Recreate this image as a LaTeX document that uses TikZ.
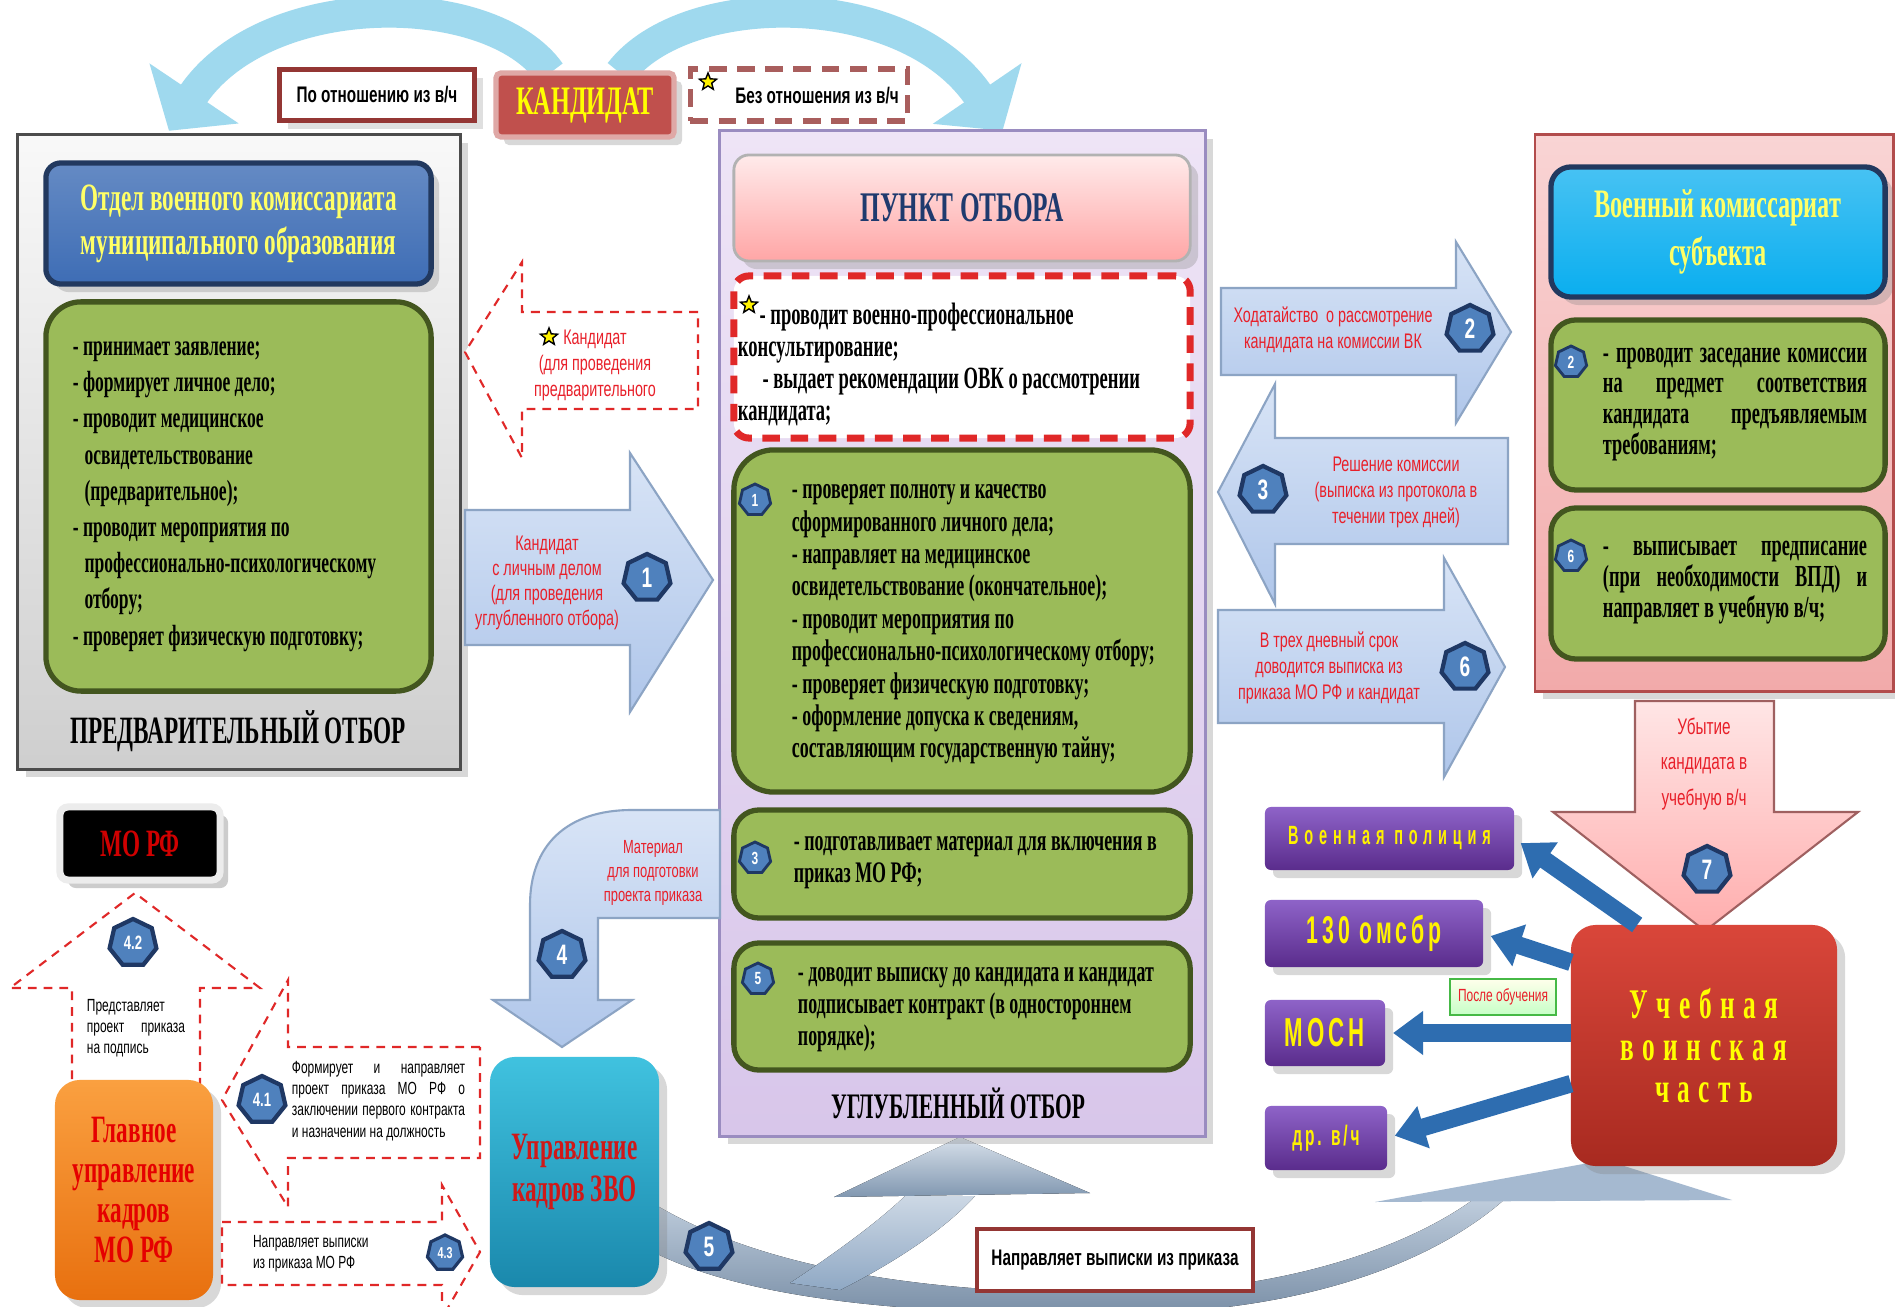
\documentclass[tikz,border=0pt]{standalone}
\usepackage{fontspec}
\setmainfont{Liberation Serif}
\newfontfamily\srf[FakeStretch=0.6]{Liberation Serif}
\newfontfamily\srw[FakeStretch=0.6,LetterSpace=20]{Liberation Serif}
\newfontfamily\snf[FakeStretch=0.68]{Liberation Sans}
\newfontfamily\snw[FakeStretch=0.55,LetterSpace=10]{Liberation Sans}
\usetikzlibrary{shapes.geometric,arrows.meta,shadows,backgrounds,positioning}

\definecolor{greenbox}{HTML}{9BBB59}
\definecolor{greenedge}{HTML}{43561F}
\definecolor{okblue}{HTML}{3E6DB5}
\definecolor{okedge}{HTML}{22395F}
\definecolor{headyellow}{HTML}{FFFF66}
\definecolor{vkblue}{HTML}{0AAEEF}
\definecolor{lavtop}{HTML}{EEE4F6}
\definecolor{lavbot}{HTML}{D8C6EA}
\definecolor{lavedge}{HTML}{9A8CC0}
\definecolor{pinktop}{HTML}{F9D4D4}
\definecolor{pinkbot}{HTML}{F2AAAA}
\definecolor{punktblue}{HTML}{1F3A6E}
\definecolor{kandred}{HTML}{C0504D}
\definecolor{kandyellow}{HTML}{FFFF00}
\definecolor{darkred}{HTML}{943634}
\definecolor{dashred}{HTML}{E02828}
\definecolor{labelred}{HTML}{E8202A}
\definecolor{arrowtop}{HTML}{D8E4F6}
\definecolor{arrowbot}{HTML}{AFC6EA}
\definecolor{arrowedge}{HTML}{8CA4C4}
\definecolor{arccyan}{HTML}{9FD9EE}
\definecolor{purtop}{HTML}{8E63C8}
\definecolor{purbot}{HTML}{5A2C8C}
\definecolor{puryellow}{HTML}{FFF200}
\definecolor{darkblue}{HTML}{2E6DB0}
\definecolor{uchtop}{HTML}{D9463A}
\definecolor{uchbot}{HTML}{A82A20}
\definecolor{tealtop}{HTML}{40C2DF}
\definecolor{tealbot}{HTML}{1A88AC}
\definecolor{orangetop}{HTML}{FAA040}
\definecolor{orangebot}{HTML}{E8700F}
\definecolor{morfred}{HTML}{D00000}
\definecolor{zvored}{HTML}{D01818}
\definecolor{swoosh}{HTML}{8FA8C4}
\definecolor{badgeblue}{HTML}{4F81BD}
\definecolor{badgeedge}{HTML}{1F3864}

\begin{document}
\begin{tikzpicture}[x=0.01cm, y=-0.01cm,
    every node/.style={inner sep=0pt, outer sep=0pt},
    panelbox/.style={rectangle, line width=0.8pt, drop shadow={opacity=0.3}},
    headbox/.style={rectangle, rounded corners=0.15cm, line width=1.5pt, draw=okedge,
        text=headyellow, align=center, font=\srf\bfseries\fontsize{11}{12.5}\selectfont,
        drop shadow={opacity=0.3}},
    gbox/.style={rectangle, rounded corners=0.3cm, draw=greenedge, line width=1.5pt, fill=greenbox},
    gtext/.style={anchor=west, align=left, font=\srf\bfseries\fontsize{8.5}{9.2}\selectfont},
    ttl/.style={font=\srf\bfseries\fontsize{11}{12}\selectfont},
    badge/.style={regular polygon, regular polygon sides=7, fill=badgeblue, draw=badgeedge,
        line width=1.2pt, minimum size=0.48cm, text=white, font=\snf\bfseries\fontsize{8}{8}\selectfont},
    smallbadge/.style={badge, minimum size=0.32cm, line width=0.8pt, font=\snf\bfseries\fontsize{5}{5}\selectfont},
    blockarr/.style={draw=arrowedge, line width=0.6pt, top color=arrowtop, bottom color=arrowbot},
    dasharr/.style={draw=dashred, line width=0.6pt, dash pattern=on 2.5pt off 2pt, fill=white},
    redlabel/.style={align=center, text=labelred, font=\snf\fontsize{6}{7.4}\selectfont},
    blacklabel/.style={font=\snf\fontsize{5}{6}\selectfont},
    purplebox/.style={rectangle, rounded corners=0.06cm, top color=purtop, bottom color=purbot,
        text=puryellow, drop shadow={opacity=0.3}},
    bluearr/.style={line width=5pt, draw=darkblue, shorten >=0.08cm, -{Triangle[width=0.42cm, length=0.3cm]}},
    arcarr/.style={line width=9pt, draw=arccyan, -{Triangle[width=1.05cm, length=0.45cm]}},
    starmark/.style={star, star points=5, star point ratio=2.3, fill=yellow, draw=black, line width=0.4pt, minimum size=0.18cm}
]
\useasboundingbox (0,0) rectangle (1895,1307);
\begin{scope}[on background layer]
    \fill[white] (0,0) rectangle (1895,1307);
\end{scope}

% top row
\node[rectangle, draw=darkred, line width=1.2pt, fill=white,
    minimum width=1.95cm, minimum height=0.51cm,
    font=\snf\bfseries\fontsize{6.4}{7}\selectfont,
    drop shadow={opacity=0.25}] (otn) at (377,95) {По отношению из в/ч};
\node[rectangle, rounded corners=0.05cm, fill=kandred, draw=kandred!50!white, line width=1.5pt,
    minimum width=1.78cm, minimum height=0.64cm, text=kandyellow,
    font=\srf\bfseries\fontsize{11.5}{12}\selectfont,
    drop shadow={opacity=0.3}] (kand) at (585,105) {КАНДИДАТ};
\node[rectangle, draw=darkred!80, line width=1.5pt, dash pattern=on 5pt off 3pt, fill=white,
    minimum width=2.17cm, minimum height=0.52cm] (bez) at (799,95) {};
\node[font=\snf\bfseries\fontsize{6.4}{7}\selectfont] (beztxt) at (817,96) {Без отношения из в/ч};
\node[starmark] (bezstar) at (708,82) {};

% preliminary selection
\node[panelbox, draw=black!70, top color=gray!5, bottom color=gray!38,
    minimum width=4.42cm, minimum height=6.34cm] (pre) at (239,452) {};
\node[headbox, top color=okblue!80!white, bottom color=okblue,
    minimum width=3.85cm, minimum height=1.21cm] (okhead) at (238.5,223.5)
    {Отдел военного комиссариата\\муниципального образования};
\node[gbox, rounded corners=0.35cm, minimum width=3.85cm, minimum height=3.89cm] (okg) at (238.5,496.5) {};
\node[gtext, font=\srf\bfseries\fontsize{8.3}{10.3}\selectfont] (okgt) at ([xshift=0.27cm]okg.west)
    {- принимает заявление;\\
     - формирует личное дело;\\
     - проводит медицинское\\
     \hspace*{0.4em}освидетельствование\\
     \hspace*{0.4em}(предварительное);\\
     - проводит мероприятия по\\
     \hspace*{0.4em}профессионально-психологическому\\
     \hspace*{0.4em}отбору;\\
     - проверяет физическую подготовку;};
\node[ttl] (pret) at (238,731) {ПРЕДВАРИТЕЛЬНЫЙ ОТБОР};

% deep selection
\node[panelbox, draw=lavedge, top color=lavtop, bottom color=lavbot,
    minimum width=4.85cm, minimum height=10.05cm] (deep) at (962.5,633.5) {};
\node[rectangle, rounded corners=0.15cm, draw=gray!60, line width=0.8pt,
    top color=red!8, bottom color=red!35,
    minimum width=4.56cm, minimum height=1.06cm, text=punktblue,
    font=\srf\bfseries\fontsize{12}{13}\selectfont,
    drop shadow={opacity=0.3}] (punkt) at (962,208) {ПУНКТ ОТБОРА};
\node[rectangle, rounded corners=0.15cm, draw=dashred, line width=2pt, dash pattern=on 5pt off 3pt,
    fill=white, minimum width=4.56cm, minimum height=1.62cm] (dbox) at (962,357) {};
\node[gtext, font=\srf\bfseries\fontsize{8.8}{9.1}\selectfont] (dboxt) at ([xshift=0.04cm,yshift=-0.07cm]dbox.west)
    {\hspace*{0.7em}- проводит военно-профессиональное\\
     консультирование;\\
     \hspace*{0.8em}- выдает рекомендации ОВК о рассмотрении\\
     кандидата;};
\node[starmark] (dstar) at (749,305) {};
\node[gbox, rounded corners=0.4cm, minimum width=4.56cm, minimum height=3.42cm] (g1) at (962,621) {};
\node[gtext] (g1t) at ([xshift=0.58cm,yshift=-0.035cm]g1.west)
    {- проверяет полноту и качество\\
     сформированного личного дела;\\
     - направляет на медицинское\\
     освидетельствование (окончательное);\\
     - проводит мероприятия по\\
     профессионально-психологическому отбору;\\
     - проверяет физическую подготовку;\\
     - оформление допуска к сведениям,\\
     составляющим государственную тайну;};
\node[smallbadge] (b1s) at (755,500) {1};
\node[gbox, rounded corners=0.25cm, minimum width=4.56cm, minimum height=1.08cm] (g3) at (962,864) {};
\node[gtext] (g3t) at ([xshift=0.6cm,yshift=0.015cm]g3.west)
    {- подготавливает материал для включения в\\приказ МО РФ;};
\node[smallbadge] (b3s) at (755,858) {3};
\node[gbox, rounded corners=0.25cm, minimum width=4.56cm, minimum height=1.27cm] (g5) at (962,1006.5) {};
\node[gtext] (g5t) at ([xshift=0.64cm,yshift=-0.03cm]g5.west)
    {- доводит выписку до кандидата и кандидат\\
     подписывает контракт (в одностороннем\\
     порядке);};
\node[smallbadge] (b5s) at (758,979) {5};
\node[ttl, font=\srf\bfseries\fontsize{10.2}{11}\selectfont] (deept) at (958,1103) {УГЛУБЛЕННЫЙ ОТБОР};

% military commissariat of the subject
\node[panelbox, draw=red!40!gray, top color=pinktop, bottom color=pinkbot,
    minimum width=3.58cm, minimum height=5.56cm] (vk) at (1714,413) {};
\node[headbox, top color=vkblue!75!white, bottom color=vkblue, rounded corners=0.2cm,
    font=\srf\bfseries\fontsize{11.5}{13.5}\selectfont,
    minimum width=3.34cm, minimum height=1.30cm] (vkhead) at (1718,232) {Военный комиссариат\\субъекта};
\node[gbox, rounded corners=0.25cm, minimum width=3.34cm, minimum height=1.70cm] (g2r) at (1718,405) {};
\node[gtext, anchor=center, align=justify, text width=2.64cm, font=\srf\bfseries\fontsize{8.7}{8.8}\selectfont] (g2rt) at (1735,404.5)
    {- проводит заседание комиссии\linebreak на предмет соответствия\linebreak кандидата предъявляемым\linebreak требованиям;};
\node[smallbadge] (b2s) at (1571,362) {2};
\node[gbox, rounded corners=0.25cm, minimum width=3.34cm, minimum height=1.51cm] (g6r) at (1718,583.5) {};
\node[gtext, anchor=center, align=justify, text width=2.64cm, font=\srf\bfseries\fontsize{8.7}{8.9}\selectfont] (g6rt) at (1735,582.5)
    {- выписывает предписание\linebreak (при необходимости ВПД) и\linebreak направляет в учебную в/ч;};
\node[smallbadge] (b6s) at (1571,556) {6};

% candidate to preliminary selection
\draw[dasharr] (698,312) -- (522,312) -- (522,262) -- (465,352) -- (522,458) -- (522,409) -- (698,409) -- cycle;
\node[redlabel] (kprev) at (595,365) {Кандидат\\(для проведения\\предварительного};
\node[starmark] (kstar) at (549,337) {};

% step 1
\draw[blockarr] (465,510) -- (630,510) -- (630,453) -- (713,580) -- (630,712) -- (630,645) -- (465,645) -- cycle;
\node[redlabel, font=\snf\fontsize{6}{7.1}\selectfont] (l1) at (547,583) {Кандидат\\с личным делом\\(для проведения\\углубленного отбора)};
\node[badge] (b1) at (647,578) {1};

% steps 2, 3, 6
\draw[blockarr] (1221,288) -- (1456,288) -- (1456,242) -- (1511,332) -- (1456,423) -- (1456,375) -- (1221,375) -- cycle;
\node[redlabel] (l2) at (1333,330) {Ходатайство~ о рассмотрение\\кандидата на комиссии ВК};
\node[badge] (b2) at (1470,329) {2};
\draw[blockarr] (1508,438) -- (1275,438) -- (1275,384) -- (1218,492) -- (1275,604) -- (1275,544) -- (1508,544) -- cycle;
\node[redlabel] (l3) at (1396,492) {Решение комиссии\\(выписка из протокола в\\течении трех дней)};
\node[badge] (b3) at (1263,490) {3};
\draw[blockarr] (1218,610) -- (1444,610) -- (1444,558) -- (1505,667) -- (1444,777) -- (1444,723) -- (1218,723) -- cycle;
\node[redlabel] (l6) at (1329,668) {В трех дневный срок\\доводится выписка из\\приказа МО РФ и кандидат};
\node[badge] (b6) at (1465,667) {6};

% step 7
\draw[blockarr, draw=red!25!gray, top color=red!10, bottom color=red!32]
    (1635,701) -- (1774,701) -- (1774,812) -- (1858,812) -- (1705,931) -- (1553,812) -- (1635,812) -- cycle;
\node[redlabel, font=\snf\fontsize{6.4}{10.2}\selectfont] (l7) at (1704,764) {Убытие\\кандидата в\\учебную в/ч};
\node[badge] (b7) at (1707,870) {7};

% training unit and destinations
\node[rectangle, rounded corners=0.25cm, top color=uchtop, bottom color=uchbot,
    minimum width=2.66cm, minimum height=2.41cm, text=kandyellow, align=center,
    font=\srw\bfseries\fontsize{12}{12}\selectfont,
    drop shadow={opacity=0.3}] (ucheb) at (1704,1045.5) {Учебная\\воинская\\часть};
\node[purplebox, minimum width=2.49cm, minimum height=0.63cm,
    font=\snw\addfontfeature{LetterSpace=22}\bfseries\fontsize{7.5}{8}\selectfont] (vp) at (1389.5,838.5) {Военная полиция};
\node[purplebox, minimum width=2.18cm, minimum height=0.67cm,
    font=\snw\bfseries\fontsize{11}{12}\selectfont] (oms) at (1374,933.5) {130 омсбр};
\node[purplebox, minimum width=1.2cm, minimum height=0.66cm,
    font=\snw\bfseries\fontsize{11.5}{12}\selectfont] (mosn) at (1325,1033) {МОСН};
\node[purplebox, minimum width=1.22cm, minimum height=0.64cm,
    font=\snw\bfseries\fontsize{8}{9}\selectfont] (drv) at (1326,1138) {др. в/ч};
\draw[bluearr] (ucheb.119) -- (vp.east);
\draw[bluearr] (ucheb.148) -- (oms.east);
\draw[bluearr] (ucheb.west |- mosn.east) -- (mosn.east);
\draw[bluearr] (ucheb.196) -- (drv.east);
\node[rectangle, draw=green!45!gray, line width=0.5pt, top color=yellow!8, bottom color=green!22,
    minimum width=1.06cm, minimum height=0.36cm, text=labelred,
    font=\snf\fontsize{5}{6}\selectfont] (posle) at (1503,997) {После обучения};

% personnel bodies
\node[rectangle, rounded corners=0.08cm, fill=black, draw=gray!15, line width=2pt,
    minimum width=1.6cm, minimum height=0.73cm, text=morfred,
    font=\srf\bfseries\fontsize{11}{12}\selectfont,
    drop shadow={opacity=0.4}] (morf) at (140,843.5) {МО РФ};
\draw[dasharr] (72,1095) -- (72,988) -- (10,988) -- (135,893) -- (260,988) -- (200,988) -- (200,1095) -- cycle;
\node[blacklabel, text width=0.98cm, align=justify] (l42) at (136,1028)
    {Представляет\linebreak проект приказа\linebreak на подпись};
\node[badge, font=\snf\bfseries\fontsize{5.5}{6}\selectfont] (b42) at (133,943) {4.2};
\node[rectangle, rounded corners=0.25cm, top color=orangetop, bottom color=orangebot,
    minimum width=1.58cm, minimum height=2.20cm, text=red!90!black, align=center,
    font=\srf\bfseries\fontsize{11}{11.4}\selectfont,
    drop shadow={opacity=0.3}] (guk) at (134,1190) {Главное\\управление\\кадров\\МО РФ};

\draw[dasharr] (480,1047) -- (288,1047) -- (288,980) -- (222,1100) -- (288,1207) -- (288,1158) -- (480,1158) -- cycle;
\node[blacklabel, text width=1.73cm, align=justify] (l41) at (378.5,1101)
    {Формирует и направляет\linebreak проект приказа МО РФ о\linebreak заключении первого контракта\linebreak и назначении на должность};
\node[badge, font=\snf\bfseries\fontsize{5.5}{6}\selectfont] (b41) at (262,1100) {4.1};
\draw[dasharr] (222,1222) -- (442,1222) -- (442,1185) -- (480,1252) -- (442,1318) -- (442,1285) -- (222,1285) -- cycle;
\node[blacklabel, anchor=west, align=left] (l43) at (253,1254) {Направляет выписки\\из приказа МО РФ};
\node[badge, minimum size=0.36cm, line width=0.9pt, font=\snf\bfseries\fontsize{4.5}{5}\selectfont] (b43) at (445,1253) {4.3};

\node[rectangle, rounded corners=0.25cm, top color=tealtop, bottom color=tealbot,
    minimum width=1.69cm, minimum height=2.30cm, text=zvored, align=center,
    font=\srf\bfseries\fontsize{11}{12}\selectfont,
    drop shadow={opacity=0.3}] (uprzvo) at (574.5,1172) {Управление\\кадров ЗВО};

% step 4
\draw[blockarr] (720,810) -- (632,810) .. controls (566,810) and (530,846) .. (530,905) -- (530,1000)
    -- (493,1000) -- (562,1047) -- (632,1000) -- (598,1000) -- (598,918) -- (720,918) -- cycle;
\node[redlabel, font=\snf\fontsize{5.4}{6.8}\selectfont] (l4) at (653,873) {Материал\\для подготовки\\проекта приказа};
\node[badge] (b4) at (562,955) {4};

% step 5
\begin{scope}[on background layer]
    \draw[arcarr] ([xshift=-0.35cm]kand.north) .. controls (490,-12) and (265,-12) .. ([xshift=-0.7cm,yshift=0.04cm]pre.north);
    \draw[arcarr] ([xshift=0.35cm]kand.north) .. controls (685,-12) and (905,-12) .. ([xshift=0.4cm]deep.north);
    \fill[top color=swoosh!55, bottom color=swoosh!85!black]
        (640,1195) .. controls (760,1275) and (950,1294) .. (1120,1293)
        .. controls (1300,1291) and (1420,1240) .. (1478,1196) -- (1505,1199)
        .. controls (1430,1265) and (1300,1312) .. (1120,1314)
        .. controls (920,1315) and (740,1302) .. (640,1245) -- cycle;
    \fill[swoosh!80] (1375,1202) -- (1605,1160) -- (1732,1200) -- cycle;
    \fill[top color=swoosh!45, bottom color=swoosh]
        (790,1283) .. controls (840,1250) and (880,1220) .. (905,1196) -- (975,1196)
        .. controls (940,1235) and (880,1270) .. (840,1290) -- cycle;
    \fill[top color=swoosh!35, bottom color=swoosh!90!black] (834,1197) -- (960,1137) -- (1090,1193) -- cycle;
\end{scope}
\node[badge] (b5) at (709,1247) {5};
\node[rectangle, draw=darkred, line width=1.2pt, fill=white,
    minimum width=2.76cm, minimum height=0.62cm,
    font=\snf\bfseries\fontsize{6.4}{7}\selectfont] (napr) at (1115,1260) {Направляет выписки из приказа};
\end{tikzpicture}
\end{document}
